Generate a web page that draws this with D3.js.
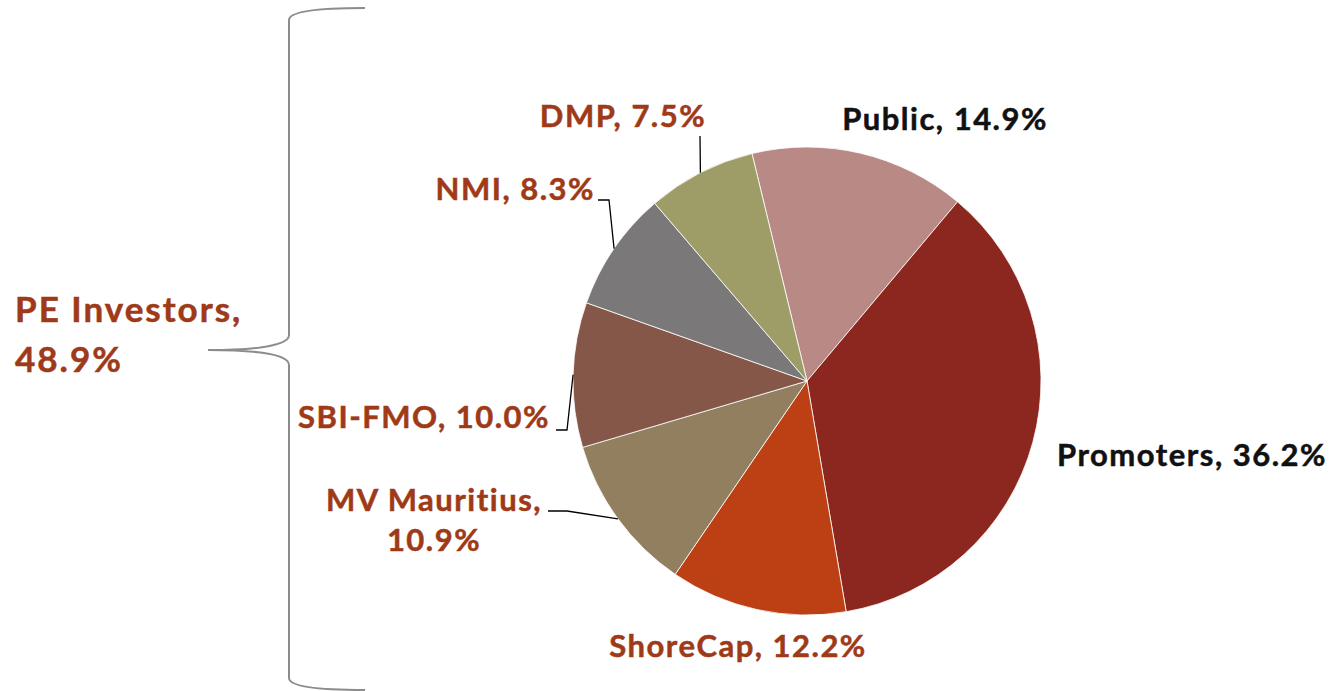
<!DOCTYPE html>
<html>
<head>
<meta charset="utf-8">
<script src="https://cdn.jsdelivr.net/npm/d3@7"></script>
<style>
  html, body { margin: 0; padding: 0; background: #fff; }
  svg text { font-family: Lato, "Open Sans", sans-serif; font-weight: 700; }
</style>
</head>
<body>
<svg id="chart" width="1333" height="691"></svg>
<script>
// data
const categories = ["Public", "Promoters", "ShoreCap", "MV Mauritius", "SBI-FMO", "NMI", "DMP"];
const shares = [14.9, 36.2, 12.2, 10.9, 10.0, 8.3, 7.5];
const sliceColors = ["#b98985", "#8b271e", "#bc4014", "#917f5f", "#845749", "#7a7879", "#9e9d68"];
const groupLabel = ["PE Investors,", "48.9%"];

const svg = d3.select("#chart"),
    cx = 807,
    cy = 381,
    radius = 234,
    red = "#9e3a17",
    startAngle = -13.6 * Math.PI / 180;

const pie = d3.pie()
    .sort(null)
    .value(d => d.value)
    .startAngle(startAngle)
    .endAngle(startAngle + 2 * Math.PI);

const data = categories.map((c, i) => ({ name: c, value: shares[i], color: sliceColors[i] }));
const arcs = pie(data);

const arc = d3.arc().innerRadius(0).outerRadius(radius);

const g = svg.append("g").attr("transform", "translate(" + cx + "," + cy + ")");

g.selectAll("path.slice")
    .data(arcs)
    .enter()
    .append("path")
    .attr("class", "slice")
    .attr("d", arc)
    .attr("fill", d => d.data.color)
    .attr("stroke", "#fff")
    .attr("stroke-width", 0.8);

// label layout (x, y relative to svg, anchor, colour, leader elbow points)
const labelLayout = {
    "Public":       { x: 945, y: 130, anchor: "middle", color: "#111" },
    "Promoters":    { x: 1057, y: 466, anchor: "start", color: "#111" },
    "ShoreCap":     { x: 738, y: 657, anchor: "middle", color: red },
    "MV Mauritius": { x: 434, y: 511, anchor: "middle", color: red, twoLines: true,
                      leader: [[548, 511], [567, 511]] },
    "SBI-FMO":      { x: 550, y: 428, anchor: "end", color: red,
                      leader: [[556, 430], [567, 430]] },
    "NMI":          { x: 595, y: 200, anchor: "end", color: red,
                      leader: [[598, 200], [609, 200]] },
    "DMP":          { x: 623, y: 127, anchor: "middle", color: red,
                      leader: [[700, 136]] }
};

arcs.forEach(a => {
    const lay = labelLayout[a.data.name];
    const pct = d3.format(".1f")(a.data.value) + "%";
    const t = svg.append("text")
        .attr("x", lay.x)
        .attr("y", lay.y)
        .attr("text-anchor", lay.anchor)
        .attr("fill", lay.color)
        .attr("stroke", lay.color)
        .attr("stroke-width", 0.5)
        .attr("letter-spacing", "1.5px")
        .attr("font-size", "31px");
    if (lay.twoLines) {
        t.append("tspan").attr("x", lay.x).text(a.data.name + ",");
        t.append("tspan").attr("x", lay.x).attr("dy", 40).text(pct);
    } else {
        t.text(a.data.name + ", " + pct);
    }

    if (lay.leader) {
        const mid = (a.startAngle + a.endAngle) / 2;
        const edge = [cx + radius * Math.sin(mid), cy - radius * Math.cos(mid)];
        const pts = lay.leader.concat([edge]);
        svg.append("path")
            .attr("d", d3.line()(pts))
            .attr("fill", "none")
            .attr("stroke", "#000")
            .attr("stroke-width", 1.3);
    }
});

// curly brace for PE investors
const brace = d3.path();
brace.moveTo(365, 8);
brace.bezierCurveTo(330, 8, 289, 10, 289, 20);
brace.lineTo(289, 335);
brace.bezierCurveTo(289, 348, 240, 350, 208, 350);
brace.bezierCurveTo(240, 350, 289, 352, 289, 365);
brace.lineTo(289, 678);
brace.bezierCurveTo(289, 688, 330, 690, 365, 690);

svg.append("path")
    .attr("d", brace.toString())
    .attr("fill", "none")
    .attr("stroke", "#8c8c8c")
    .attr("stroke-width", 2);

svg.append("text")
    .attr("x", 15)
    .attr("y", 322)
    .attr("fill", red)
    .attr("stroke", red)
    .attr("stroke-width", 0.5)
    .attr("letter-spacing", "2px")
    .attr("font-size", "35px")
    .selectAll("tspan")
    .data(groupLabel)
    .enter()
    .append("tspan")
    .attr("x", 15)
    .attr("dy", (d, i) => i === 0 ? 0 : 50)
    .text(d => d);
</script>
</body>
</html>
